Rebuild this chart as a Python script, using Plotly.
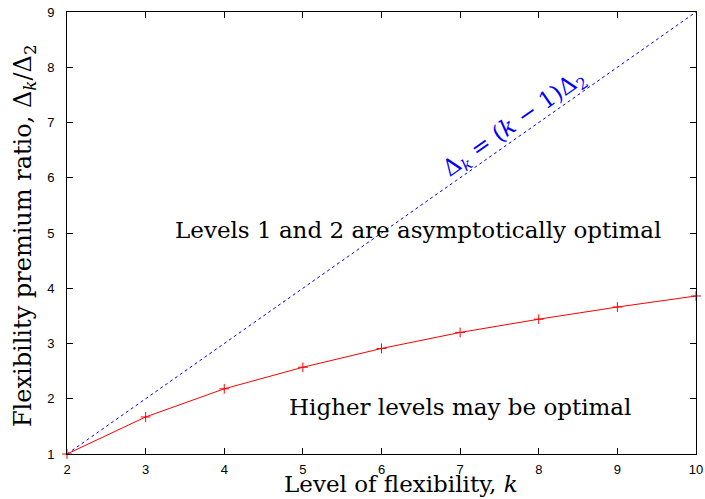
import plotly.graph_objects as go

k_values = [2, 3, 4, 5, 6, 7, 8, 9, 10]
ratio_values = [1.0, 1.67, 2.18, 2.57, 2.91, 3.20, 3.44, 3.66, 3.86]
bound_values = [1, 2, 3, 4, 5, 6, 7, 8, 9]
x_ticks = [2, 3, 4, 5, 6, 7, 8, 9, 10]
y_ticks = [1, 2, 3, 4, 5, 6, 7, 8, 9]

SERIF = "DejaVu Serif"
SANS = "Liberation Sans"

fig = go.Figure()
fig.add_trace(go.Scatter(
    x=k_values, y=bound_values, mode="lines",
    line=dict(color="#0000ff", width=1, dash="dot"),
    showlegend=False, hoverinfo="skip"))
fig.add_trace(go.Scatter(
    x=k_values, y=ratio_values, mode="lines+markers",
    line=dict(color="#ff0000", width=1),
    marker=dict(symbol="cross-thin", size=7, line=dict(color="#ff0000", width=1)),
    showlegend=False, cliponaxis=False))

axis_common = dict(
    showgrid=False, zeroline=False, showline=True, linecolor="black", linewidth=1,
    mirror="ticks", ticks="inside", ticklen=6, tickcolor="black", tickwidth=1,
    automargin=False,
    tickfont=dict(family=SANS, size=13, color="black"))

fig.update_xaxes(range=[2, 10], tickvals=x_ticks, ticktext=[str(v) for v in x_ticks],
                 ticklabelstandoff=3, **axis_common)
fig.update_yaxes(range=[1, 9], tickvals=y_ticks, ticktext=[str(v) for v in y_ticks],
                 ticklabelstandoff=9, **axis_common)

annotations = [
    dict(x=6.47, y=5.05, xref="x", yref="y", text="Levels 1 and 2 are asymptotically optimal",
         showarrow=False, font=dict(family=SERIF, size=23, color="black")),
    dict(x=7.0, y=1.85, xref="x", yref="y", text="Higher levels may be optimal",
         showarrow=False, font=dict(family=SERIF, size=23, color="black")),
    dict(x=7.70, y=6.97, xref="x", yref="y",
         text="Δ<sub><i>k</i></sub> = (<i>k</i> − 1)Δ<sub>2</sub>",
         showarrow=False, textangle=-35, font=dict(family=SERIF, size=23, color="#0000ff")),
    dict(x=6.25, y=0, xref="x", yref="paper", yshift=-30, yanchor="middle",
         text="Level of flexibility, <i>k</i>", showarrow=False,
         font=dict(family=SERIF, size=23, color="black")),
    dict(x=0, y=0.493, xref="paper", yref="paper", xshift=-43, xanchor="center", yanchor="middle",
         text="Flexibility premium ratio, Δ<sub><i>k</i></sub>/Δ<sub>2</sub>", textangle=-90,
         showarrow=False, font=dict(family=SERIF, size=24, color="black")),
]

fig.update_layout(
    width=705, height=499,
    margin=dict(l=67, r=9, t=12, b=45),
    paper_bgcolor="white", plot_bgcolor="white",
    annotations=annotations,
)

fig.write_html("out.html")
